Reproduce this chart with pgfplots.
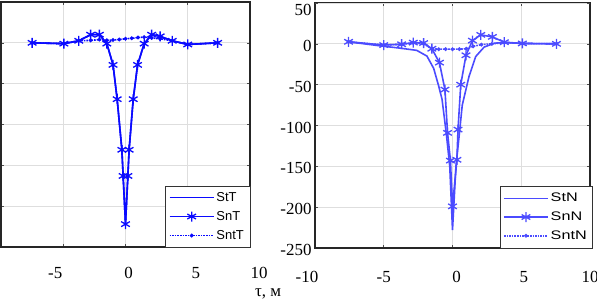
\documentclass[border=0pt]{standalone}
\usepackage{fontspec}
\setmainfont{Liberation Serif}
\newfontfamily\legfont{Liberation Sans}
\newfontfamily\legfontwide[FakeStretch=1.3]{Liberation Sans}
\usepackage{pgfplots}
\pgfplotsset{compat=1.18}
\definecolor{lb}{RGB}{10,10,255}
\definecolor{rb}{RGB}{75,75,255}
\pgfplotsset{
  panel/.style={
    scale only axis, height=245bp,
    xmin=-10, xmax=10, ymin=-250, ymax=50,
    xtick={-10,-5,0,5,10}, ytick={-250,-200,-150,-100,-50,0,50},
    grid=major, grid style={draw=black!13, line width=0.8bp},
    axis line style={line width=1.1bp, black!85},
    tick align=inside, major tick length=3bp, tick style={black!70, line width=0.6bp},
    /pgf/number format/assume math mode=true,
    ticklabel style={font=\fontsize{17}{20}\selectfont},
    legend image code/.code={\draw[mark repeat=2,mark phase=2,##1] plot coordinates {(0bp,0bp) (22bp,0bp) (44bp,0bp)};},
    legend cell align=left,
  },
  stline/.style={line width=1.6bp, no markers},
  snline/.style={line width=1.6bp, mark=asterisk, mark size=5bp, mark options={solid, line width=1.3bp}},
  sntline/.style={line width=1.6bp, densely dotted, mark=*, mark size=1bp, mark options={solid}},
}
\begin{document}
\begin{tikzpicture}
\useasboundingbox (0,0) rectangle (597bp,305bp);
% ---------------- left panel (T) ----------------
\begin{axis}[panel, at={(1bp,58bp)}, anchor=south west, width=249bp,
  xticklabels={,\hspace*{-16bp}-5,\hspace*{6bp}0,\hspace*{16bp}5,\hspace*{18bp}10},
  xticklabel style={yshift=-17bp},
  yticklabels={},
  legend style={at={(1,0)}, anchor=south east, draw=black!80,
    font=\legfont\fontsize{13}{15}\selectfont, row sep=4.5bp, inner xsep=4bp, inner ysep=4bp}]
\addplot[stline, color=lb] coordinates {
(-7.5,0) (-4.95,-1) (-3.75,2.5) (-2.8,10) (-2.1,10) (-1.5,-1) (-1.0,-27) (-0.67,-69)
(-0.29,-131) (-0.19,-163) (0,-222) (0.19,-163) (0.29,-131) (0.62,-69) (0.97,-27)
(1.5,-1) (2.1,10) (2.78,8) (3.75,2.5) (5.0,-2) (7.4,0)};
\addlegendentry{StT}
\addplot[snline, color=lb] coordinates {
(-7.5,0) (-4.95,-1) (-3.75,2.5) (-2.8,10) (-2.1,10) (-1.5,-1) (-1.0,-27) (-0.67,-69)
(-0.29,-131) (-0.19,-163) (0,-222) (0.19,-163) (0.29,-131) (0.62,-69) (0.97,-27)
(1.5,-1) (2.1,10) (2.78,8) (3.75,2.5) (5.0,-2) (7.4,0)};
\addlegendentry{SnT}
\addplot[sntline, color=lb] coordinates {
(-7.5,0) (-4.95,-1) (-3.75,2.5) (-2.8,3) (-2.1,4) (-1.5,3) (-1.0,3.5) (-0.5,4)
(0,5) (0.5,5.5) (1.0,6.5) (1.5,7) (2.1,6) (2.78,5) (3.75,2.5) (5.0,-2) (7.4,0)};
\addlegendentry{SntT}
\end{axis}
% ---------------- right panel (N) ----------------
\begin{axis}[panel, at={(315bp,57bp)}, anchor=south west, width=275bp,
  xticklabels={\hspace*{-16bp}-10,-5,\hspace*{8bp}0,\hspace*{5bp}5,10},
  xticklabel style={yshift=-20bp},
  ytick={-250,-200,-150,-100,-50,0}, extra y ticks={50},
  yticklabel style={yshift=-2bp},
  extra y tick style={yticklabel style={yshift=-5bp}},
  legend style={at={(1.007,0)}, anchor=south east, draw=black!80,
    font=\legfontwide\fontsize{12.5}{14}\selectfont, row sep=4.5bp, inner xsep=3bp, inner ysep=5bp}]
\addplot[stline, color=rb] coordinates {
(-7.56,2.5) (-5.3,-2.4) (-3.8,-5.3) (-2.6,-8) (-1.86,-15) (-1.37,-30) (-1.0,-52)
(-0.76,-68) (-0.45,-110) (-0.2,-150) (0,-228) (0.25,-150) (0.5,-110) (0.71,-75)
(1.2,-40) (1.69,-15.5) (2.3,-4) (3.04,0.8) (3.77,1.6) (5.08,0.5) (7.56,0)};
\addlegendentry{StN}
\addplot[snline, color=rb] coordinates {
(-7.56,2.5) (-5.0,-1.5) (-3.7,-0.5) (-2.85,1.5) (-2.1,1) (-1.5,-6) (-0.95,-23)
(-0.55,-56) (-0.36,-109) (-0.15,-143) (0,-199) (0.32,-142) (0.4,-105) (0.6,-50)
(0.98,-14) (1.45,4) (2.06,11) (2.9,8.5) (3.77,2) (5.08,0.5) (7.56,0)};
\addlegendentry{SnN}
\addplot[sntline, color=rb] coordinates {
(-7.56,2.5) (-5.0,-1.5) (-3.7,-0.5) (-2.85,1) (-2.1,0) (-1.5,-6) (-1.0,-6.5)
(-0.5,-6.5) (0,-6.5) (0.5,-6.5) (1.0,-6) (1.5,-3) (2.1,-1) (2.86,0) (3.77,1.5)
(5.08,0.5) (7.56,0)};
\addlegendentry{SntN}
\end{axis}
\node[font=\fontsize{17}{20}\selectfont, inner sep=0pt] at (268bp,11bp) {τ, м};
\end{tikzpicture}
\end{document}
